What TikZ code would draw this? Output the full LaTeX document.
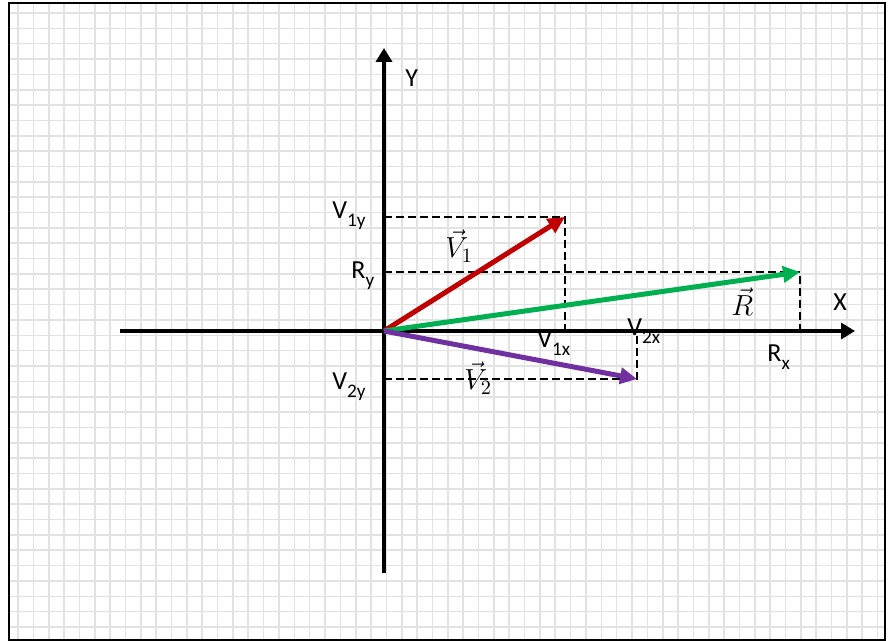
\documentclass[tikz,border=0pt]{standalone}
\usepackage{fix-cm}
\usepackage{fontspec}
\setmainfont{Carlito}
\usepackage{tikz}
\usetikzlibrary{positioning,arrows.meta}
\definecolor{vecred}{HTML}{C00000}
\definecolor{vecgreen}{HTML}{00B050}
\definecolor{vecpurple}{HTML}{7030A0}
\definecolor{gridgrey}{HTML}{E2E2E2}
\newcommand{\comp}[2]{#1\raisebox{-3.6pt}{\fontsize{9.6}{11}\selectfont #2}}

\begin{document}
\begin{tikzpicture}[x=0.5pt,y=-0.5pt,
  axis/.style={line width=2pt,-{Triangle[length=7pt,width=8pt]}},
  vec/.style={line width=2.5pt,-{Triangle[length=8.5pt,width=8pt]}},
  proj/.style={line width=0.6pt,dash pattern=on 4pt off 2pt},
  lbl/.style={font=\fontsize{13}{15}\selectfont,inner sep=0pt,anchor=base west},
  vlbl/.style={lbl,font=\fontsize{14.5}{17}\selectfont}
]
\useasboundingbox (0,0) rectangle (894,641);

% graph paper
\foreach \k in {0,...,56}
  \draw[gridgrey,line width=0.8pt] (18+15.35*\k,3) -- (18+15.35*\k,640);
\foreach \k in {0,...,40}
  \draw[gridgrey,line width=0.8pt] (9,13+15.35*\k) -- (885,13+15.35*\k);
\draw[line width=1pt] (9,3) rectangle (885,640);

% points
\coordinate (O) at (384,331);
\coordinate (v1) at (565,217);
\coordinate (r) at (800,272);
\coordinate (v2) at (637,379);
\coordinate (v1x) at (565,331);
\coordinate (v1y) at (384,217);
\coordinate (rx) at (800,331);
\coordinate (ry) at (384,272);
\coordinate (v2x) at (637,331);
\coordinate (v2y) at (384,379);
\coordinate (xl) at (120,331);
\coordinate (xr) at (855,331);
\coordinate (yb) at (384,573);
\coordinate (yt) at (384,48);

% labels
\node[lbl] (ylab) at (405,87) {Y};
\node[lbl] (xlab) at (833,311) {X};
\node[lbl] (v1ylab) at (332,219) {\comp{V}{1y}};
\node[lbl] (rylab) at (351,279) {\comp{R}{y}};
\node[lbl] (v2ylab) at (332,390) {\comp{V}{2y}};
\node[lbl] (v1xlab) at (537,348) {\comp{V}{1x}};
\node[lbl] (v2xlab) at (627,336) {\comp{V}{2x}};
\node[lbl] (rxlab) at (767,362) {\comp{R}{x}};
\node[vlbl] (v1lab) at (445,258) {$\vec{V}_1$};
\node[vlbl] (v2lab) at (464,390) {$\vec{V}_2$};
\node[vlbl] (rlab) at (731,316) {$\vec{R}$};

% components
\draw[proj] (v1y) -- (v1) -- (v1x);
\draw[proj] (ry) -- (r) -- (rx);
\draw[proj] (v2y) -- (v2) -- (v2x);

% axes
\draw[axis] (xl) -- (xr);
\draw[axis] (yb) -- (yt);

% vectors
\draw[vec,vecred] (O) -- (v1);
\draw[vec,vecgreen] (O) -- (r);
\draw[vec,vecpurple] (O) -- (v2);
\end{tikzpicture}
\end{document}
